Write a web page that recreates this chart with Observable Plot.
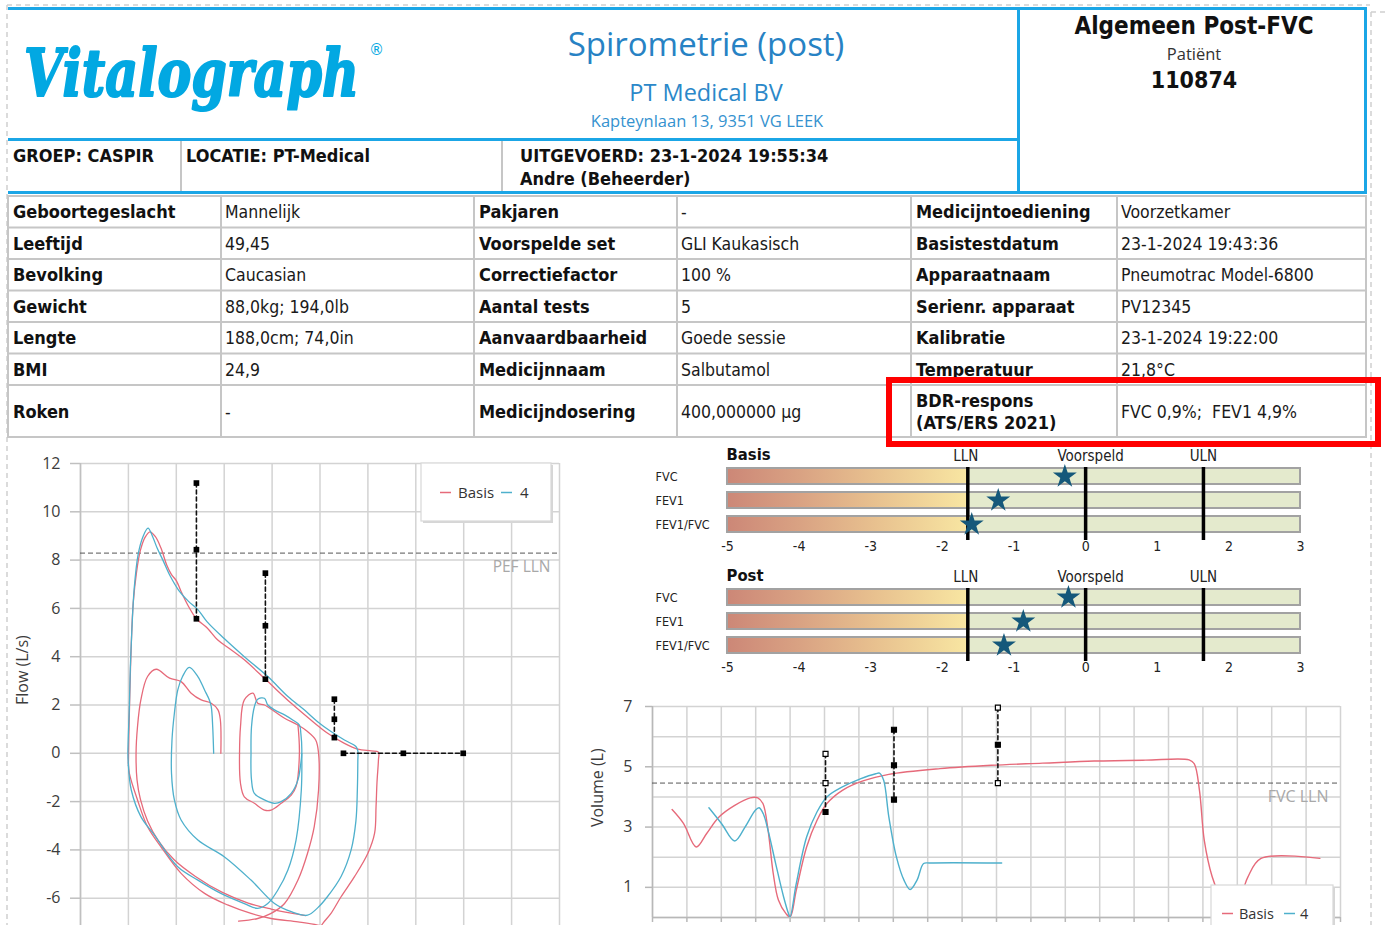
<!DOCTYPE html>
<html>
<head>
<meta charset="utf-8">
<script src="https://cdn.jsdelivr.net/npm/d3@7"></script>
<script src="https://cdn.jsdelivr.net/npm/@observablehq/plot@0.6"></script>
<style>
html, body { margin:0; padding:0; background:#fff; overflow:hidden; }
body { width:1386px; height:925px; position:relative; }
.layer { position:absolute; left:0; top:0; }
.chart { position:absolute; }
.chart svg { overflow: visible; }
</style>
</head>
<body>
<div id="bg" class="layer"></div>
<div id="fv" class="chart" style="left:0px;top:440px"></div>
<div id="zb" class="chart" style="left:640px;top:440px"></div>
<div id="zp" class="chart" style="left:640px;top:561px"></div>
<div id="vt" class="chart" style="left:580px;top:690px"></div>
<div id="ov" class="layer"></div>
<script>
// ================= DATA =================
const logoText = "Vitalograph";
const headerTitle = "Spirometrie (post)";
const headerOrg = "PT Medical BV";
const headerAddress = "Kapteynlaan 13, 9351 VG LEEK";
const reportType = "Algemeen Post-FVC";
const patientLabel = "Patiënt";
const patientId = "110874";
const groupText = "GROEP: CASPIR";
const locationText = "LOCATIE: PT-Medical";
const performedText = "UITGEVOERD: 23-1-2024 19:55:34";
const operatorText = "Andre (Beheerder)";

const tableLabels1 = ["Geboortegeslacht","Leeftijd","Bevolking","Gewicht","Lengte","BMI","Roken"];
const tableValues1 = ["Mannelijk","49,45","Caucasian","88,0kg; 194,0lb","188,0cm; 74,0in","24,9","-"];
const tableLabels2 = ["Pakjaren","Voorspelde set","Correctiefactor","Aantal tests","Aanvaardbaarheid","Medicijnnaam","Medicijndosering"];
const tableValues2 = ["-","GLI Kaukasisch","100 %","5","Goede sessie","Salbutamol","400,000000 µg"];
const tableLabels3 = ["Medicijntoediening","Basistestdatum","Apparaatnaam","Serienr. apparaat","Kalibratie","Temperatuur","BDR-respons|(ATS/ERS 2021)"];
const tableValues3 = ["Voorzetkamer","23-1-2024 19:43:36","Pneumotrac Model-6800","PV12345","23-1-2024 19:22:00","21,8°C","FVC 0,9%;  FEV1 4,9%"];

const seriesNames = ["Basis", "4"];

// Flow-volume (volume L, flow L/s)
const fvYTicks = [-6,-4,-2,0,2,4,6,8,10,12];
const fvXGrid = [0,1,2,3,4,5,6,7,8,9,10];
const fvPefLln = 8.29;
const fvBasisFvc = [[1.00,-0.4],[1.01,0.8],[1.03,2.5],[1.06,4.5],[1.10,6.2],[1.17,7.5],[1.25,8.4],[1.35,8.95],[1.45,9.17],[1.56,8.98],[1.68,8.5],[1.80,7.8],[1.90,7.4],[2.00,7.15],[2.10,6.7],[2.25,6.1],[2.42,5.57],[2.64,5.2],[2.86,4.70],[3.10,4.35],[3.42,3.87],[3.91,2.97],[4.40,2.07],[4.81,1.38],[5.16,0.83],[5.51,0.41],[5.79,0.17],[6.07,0.10],[6.22,0.05],[6.22,-0.28],[6.19,-1.2],[6.17,-2.21],[6.14,-3.31],[6.00,-4.14],[5.72,-5.11],[5.44,-5.94],[5.23,-6.63],[5.06,-7.04],[4.98,-7.3]];
const fvBasisLow = [[1.00,-0.4],[1.02,-0.83],[1.19,-1.93],[1.40,-3.04],[1.68,-3.87],[2.10,-4.97],[2.59,-5.80],[3.07,-6.28],[3.56,-6.63],[3.98,-6.84],[4.54,-6.98],[4.95,-7.11],[5.3,-7.3]];
const fvBasisLoop2 = [[2.93,0],[2.92,1.38],[2.87,1.80],[2.73,2.07],[2.52,2.21],[2.31,2.49],[2.10,2.97],[1.86,3.11],[1.58,3.48],[1.40,3.18],[1.26,2.21],[1.19,1.10],[1.16,0],[1.18,-1.10],[1.25,-1.9],[1.40,-2.8],[1.62,-3.6],[1.95,-4.4],[2.40,-5.1],[2.95,-5.75],[3.50,-6.2],[3.98,-6.45],[4.40,-6.62],[4.7,-6.72]];
const fvBasisTidal = [[3.32,0],[3.34,1.10],[3.42,2.21],[3.60,2.49],[3.70,2.07],[3.84,2.0],[4.05,1.73],[4.26,1.45],[4.54,1.17],[4.74,0.90],[4.91,0.55],[4.97,0],[4.97,-1.52],[4.88,-3.04],[4.74,-4.14],[4.54,-5.25],[4.26,-6.22],[3.98,-6.63],[3.70,-6.84],[3.3,-6.95]];
const fvBasisTidalInner = [[4.54,1.17],[4.57,0],[4.50,-1.38],[4.40,-1.73],[4.19,-2.07],[3.98,-2.35],[3.84,-2.35],[3.63,-2.07],[3.42,-1.80],[3.34,-1.24],[3.32,0]];
const fvPostFvc = [[1.00,-0.5],[0.99,0],[1.02,1.93],[1.04,3.5],[1.07,5.0],[1.12,6.8],[1.20,8.2],[1.30,8.95],[1.41,9.32],[1.50,9.0],[1.60,8.5],[1.72,8.0],[1.87,7.35],[2.05,6.75],[2.25,6.3],[2.45,5.95],[2.64,5.45],[3.00,4.75],[3.42,4.0],[3.91,3.18],[4.33,2.35],[4.67,1.80],[4.95,1.31],[5.23,0.90],[5.51,0.55],[5.75,0.28],[5.79,0.10],[5.79,-0.3],[5.78,-1.5],[5.75,-2.8],[5.65,-4.0],[5.44,-5.1],[5.15,-5.95],[4.95,-6.4],[4.74,-6.70],[4.40,-6.56],[4.05,-6.22],[3.56,-5.25],[3.00,-4.28],[2.45,-3.59],[2.10,-2.76],[1.96,-1.93],[1.90,-0.83],[1.91,0.55],[1.96,1.66],[2.03,2.62],[2.13,3.18],[2.27,3.56],[2.45,3.18],[2.59,2.62],[2.69,2.21],[2.73,1.93],[2.76,1.10],[2.78,0]];
const fvPostTidal = [[3.56,0],[3.57,1.10],[3.63,1.93],[3.70,2.24],[3.84,2.28],[3.91,2.0],[4.05,1.80],[4.26,1.59],[4.43,1.38],[4.57,1.17],[4.60,0.83],[4.62,0],[4.59,-0.55],[4.54,-1.10],[4.40,-1.66],[4.19,-2.0],[4.05,-2.07],[3.84,-1.93],[3.63,-1.66],[3.57,-1.10],[3.56,0]];
const fvPostSide = [[4.62,0],[4.61,-1.52],[4.50,-3.59],[4.33,-4.83],[4.12,-5.66],[3.91,-6.22],[3.70,-6.42],[3.42,-6.22],[2.93,-5.80],[2.45,-5.25],[2.03,-4.70],[1.54,-3.38],[1.26,-2.62],[1.06,-1.52],[1.00,-0.5]];
const fvFlowMarkerVol = [2.42, 3.86, 5.30];
const fvFlowMarkerVals = [[11.19, 8.43, 5.57],[7.46, 5.28, 3.07],[2.24, 1.41, 0.65]];
const fvVolMarkerVals = [5.49, 6.74, 7.99];

// Z-scores
const zMetrics = ["FVC", "FEV1", "FEV1/FVC"];
const zBasis = [-0.29, -1.22, -1.59];
const zPost = [-0.24, -0.87, -1.14];
const zLLN = -1.645, zULN = 1.645;
const zTicks = [-5,-4,-3,-2,-1,0,1,2,3];
const zHeaderLabels = ["LLN", "Voorspeld", "ULN"];

// Volume-time (time s, volume L)
const vtYTicks = [1, 3, 5, 7];
const vtYGrid = [0,1,2,3,4,5,6,7];
const vtXGrid = d3.range(0, 21);
const vtFvcLln = 4.46;
const vtBasis = [[0.57,3.58],[0.9,3.12],[1.27,2.34],[1.57,2.78],[1.94,3.34],[2.39,3.72],[2.84,3.97],[3.06,3.97],[3.21,3.78],[3.36,2.89],[3.51,1.46],[3.66,0.58],[3.88,0.13],[4.0,0.02],[4.18,0.91],[4.48,2.34],[4.78,3.22],[5.07,3.78],[5.52,4.22],[6.12,4.53],[6.87,4.75],[8.36,4.94],[9.85,5.05],[11.34,5.12],[12.84,5.19],[14.33,5.22],[15.6,5.23],[15.75,5.10],[15.9,4.22],[16.04,2.56],[16.27,1.35],[16.42,0.91],[16.6,0.6],[16.8,0.5],[17.0,0.65],[17.16,0.91],[17.31,1.35],[17.69,1.96],[19.4,1.96]];
const vtPost = [[1.64,3.64],[2.01,3.11],[2.39,2.54],[2.69,3.0],[2.99,3.56],[3.10,3.64],[3.22,3.44],[3.36,2.89],[3.58,1.79],[3.81,0.69],[3.96,0.11],[4.0,0.02],[4.18,1.13],[4.48,2.67],[4.78,3.50],[5.07,4.0],[5.52,4.33],[6.04,4.60],[6.49,4.77],[6.6,4.79],[6.72,4.55],[6.87,3.34],[7.09,2.01],[7.31,1.24],[7.49,0.93],[7.69,1.24],[7.88,1.79],[8.06,1.81],[10.15,1.81]];
const vtMarkerTimes = [5.03, 7.02, 10.04];
const vtMarkerVals = [[5.43, 4.46, 3.50],[6.23, 5.05, 3.91],[6.96, 5.73, 4.46]];
const vtMarkerFilled = [[false,false,true],[true,true,true],[false,true,false]];

// ================= STYLE =================
const COND = '"DejaVu Sans Condensed", "DejaVu Sans", sans-serif';
const UI = '"Open Sans", "Noto Sans", sans-serif';
const BLUE = "#1ba6e6";
const RED = "#e66a7a", TEAL = "#4eb0cc";
const seriesColor = {"Basis": RED, "4": TEAL};
const GRID = "#d3d3d3";

// ================= STATIC PAGE (header + table) =================
const bg = d3.select("#bg").append("svg").attr("width", 1386).attr("height", 925);
function line(x1, y1, x2, y2, stroke, w, dash) {
  const l = bg.append("line").attr("x1", x1).attr("y1", y1).attr("x2", x2).attr("y2", y2)
    .attr("stroke", stroke).attr("stroke-width", w);
  if (dash) l.attr("stroke-dasharray", dash);
}
function text(sel, x, y, str, opt) {
  const t = sel.append("text").attr("x", x).attr("y", y).text(str)
    .attr("font-family", opt.family || COND).attr("font-size", opt.size)
    .attr("fill", opt.fill || "#111").attr("font-weight", opt.weight || "normal")
    .attr("text-anchor", opt.anchor || "start").style("white-space", "pre");
  if (opt.style) t.attr("font-style", opt.style);
  if (opt.outline) t.attr("stroke", opt.fill).attr("stroke-width", opt.outline).attr("stroke-linejoin", "round");
  return t;
}
// dashed page borders
line(7, 5, 1370, 5, "#cfcfcf", 1.5, "5,4");
line(7, 5, 7, 925, "#cfcfcf", 1.5, "5,4");
line(1371, 12, 1371, 925, "#cfcfcf", 1.5, "5,4");
line(1371, 12, 1386, 12, "#cfcfcf", 1.5, "5,4");

// table grid
const cb = [8, 221, 474, 677, 911, 1117, 1366];
const rb = [196, 227.5, 259, 290.5, 322, 353.5, 385, 437];
rb.forEach(y => line(8, y, 1366, y, "#c6c6c6", 2));
cb.forEach(x => line(x, 195, x, 438, "#c6c6c6", 2));
const cols = [[tableLabels1, tableValues1], [tableLabels2, tableValues2], [tableLabels3, tableValues3]];
cols.forEach(([labs, vals], k) => {
  labs.forEach((lab, i) => {
    const cy = (rb[i] + rb[i + 1]) / 2;
    const parts = lab.split("|");
    parts.forEach((p, j) => {
      const yy = cy + 6.5 + (j - (parts.length - 1) / 2) * 22;
      text(bg, cb[2 * k] + 5, yy, p, {size: 18, weight: "bold", fill: "#111"});
    });
    text(bg, cb[2 * k + 1] + 4, cy + 6.5, vals[i], {size: 17.5, fill: "#1a1a1a"});
  });
});

// header boxes
line(8, 8.5, 1367, 8.5, BLUE, 3);
line(8, 139.5, 1019, 139.5, BLUE, 3);
line(8, 192.5, 1367, 192.5, BLUE, 3);
line(1018.5, 7, 1018.5, 194, BLUE, 3);
line(1365.5, 7, 1365.5, 194, BLUE, 3);
line(181, 141, 181, 191, "#c6c6c6", 2);
line(502, 141, 502, 191, "#c6c6c6", 2);

// logo: scaled horizontally to the logo's width
const logoG = bg.append("g").attr("transform", "translate(24,96)");
const logo = text(logoG, 0, 0, logoText, {family: '"DejaVu Serif", serif', size: 66, weight: "bold", style: "italic", fill: "#02a8e2", outline: 2.2});
const natural = logo.node().getComputedTextLength() || 440;
logoG.attr("transform", `translate(24,96) scale(${(335 / natural).toFixed(4)},1)`);
text(bg, 369, 55, "®", {family: '"DejaVu Sans", sans-serif', size: 15, fill: "#02a8e2"});

text(bg, 706, 56, headerTitle, {family: UI, size: 33, fill: "#2782c4", anchor: "middle"});
text(bg, 706, 100.5, headerOrg, {family: UI, size: 23.5, fill: "#2b88c9", anchor: "middle"});
text(bg, 707, 127, headerAddress, {family: UI, size: 16.5, fill: "#3592cf", anchor: "middle"});
text(bg, 1194, 34, reportType, {size: 24, weight: "bold", anchor: "middle", fill: "#111"});
text(bg, 1194, 60, patientLabel, {family: UI, size: 16.5, anchor: "middle", fill: "#333"});
text(bg, 1194, 87.5, patientId, {size: 23, weight: "bold", anchor: "middle", fill: "#111"});
text(bg, 13, 161.5, groupText, {size: 18, weight: "bold"});
text(bg, 186, 161.5, locationText, {size: 18, weight: "bold"});
text(bg, 520, 161.5, performedText, {size: 18, weight: "bold"});
text(bg, 520, 185, operatorText, {size: 18, weight: "bold"});

// ================= FLOW-VOLUME =================
const fvCurves = [
  ["Basis", fvBasisFvc], ["Basis", fvBasisLow], ["Basis", fvBasisLoop2], ["Basis", fvBasisTidal], ["Basis", fvBasisTidalInner],
  ["4", fvPostFvc], ["4", fvPostTidal], ["4", fvPostSide]
];
const fvRows = fvCurves.flatMap(([s, pts], i) => pts.map(([v, f]) => ({v, f, s, id: i})));
const fvMarkRows = [
  ...fvFlowMarkerVol.flatMap((v, i) => fvFlowMarkerVals[i].map(f => ({v, f, id: "p" + i}))),
  ...fvVolMarkerVals.map(v => ({v, f: 0, id: "h"}))
];
const fv = Plot.plot({
  width: 580, height: 485,
  marginLeft: 80, marginRight: 21, marginTop: 23, marginBottom: 0,
  x: {domain: [0, 10], axis: null},
  y: {domain: [-7.13, 12], axis: null},
  style: {background: "transparent", overflow: "visible"},
  marks: [
    Plot.gridX(fvXGrid, {stroke: GRID, strokeOpacity: 1, strokeWidth: 1.5}),
    Plot.gridY(fvYTicks, {stroke: GRID, strokeOpacity: 1, strokeWidth: 1.5}),
    Plot.axisY(fvYTicks, {label: null, tickSize: 10, tickPadding: 10, tickFormat: d => String(d), fontSize: 16, fontFamily: UI, fill: "#3c3c3c", stroke: "#c0c0c0", strokeWidth: 1.5}),
    Plot.ruleX([0], {stroke: "#c0c0c0", strokeWidth: 1.5}),
    Plot.ruleY([fvPefLln], {stroke: "#555", strokeDasharray: "5,3", strokeWidth: 1}),
    Plot.text(["PEF LLN"], {x: 10, y: fvPefLln, dx: -9, dy: 14, textAnchor: "end", fill: "#a8a8a8", fontSize: 15.5, fontFamily: UI}),
    Plot.line(fvRows, {x: "v", y: "f", z: "id", stroke: d => seriesColor[d.s], strokeWidth: 1.3, curve: "catmull-rom", clip: true}),
    Plot.line(fvMarkRows, {x: "v", y: "f", z: "id", stroke: "#111", strokeWidth: 1.6, strokeDasharray: "4,3"}),
    Plot.dot(fvMarkRows, {x: "v", y: "f", symbol: "square", fill: "#000", r: 3.2}),
    Plot.text(["Flow (L/s)"], {frameAnchor: "left", y: 2, dx: -58, rotate: -90, fontSize: 16, fontFamily: UI, fill: "#3c3c3c"})
  ]
});
document.getElementById("fv").appendChild(fv);

// ================= Z-SCORES =================
function zChart(title, values, gid) {
  const gridRows = zMetrics.flatMap(m => zTicks.filter(t => t > -5 && t < 3 && t !== 0).map(t => ({m, t})));
  const starRows = zMetrics.map((m, i) => ({m, z: values[i]}));
  const headRows = zHeaderLabels.map((label, i) => ({label, x: [zLLN, 0, zULN][i]}));
  const svg = Plot.plot({
    width: 700, height: 120,
    marginLeft: 87, marginRight: 40, marginTop: 27, marginBottom: 20,
    x: {domain: [-5, 3], axis: null},
    y: {domain: zMetrics, range: [27, 92], paddingInner: 0.35, paddingOuter: 0, axis: null},
    style: {background: "transparent", overflow: "visible"},
    marks: [
      Plot.barX(zMetrics, {x1: -5, x2: zLLN, y: d => d, fill: `url(#${gid})`}),
      Plot.barX(zMetrics, {x1: zLLN, x2: 3, y: d => d, fill: "#e4eacd"}),
      Plot.ruleX(gridRows, {x: "t", y: "m", stroke: "#6e6660", strokeWidth: 2, strokeOpacity: 0.85}),
      Plot.barX(zMetrics, {x1: -5, x2: 3, y: d => d, fill: "none", stroke: "#a2a2a2", strokeWidth: 2}),
      Plot.ruleX([zLLN, 0, zULN], {stroke: "#000", strokeWidth: 3.5}),
      Plot.dot(starRows, {x: "z", y: "m", symbol: "star", fill: "#15587a", r: 7.5}),
      Plot.axisX(zTicks, {label: null, tickSize: 0, tickPadding: 1, tickFormat: d => String(d), fontSize: 14, fontFamily: COND, fill: "#222"}),
      Plot.text(zMetrics, {y: d => d, text: d => d, frameAnchor: "left", dx: -72, textAnchor: "start", fontSize: 12.5, fontFamily: COND, fill: "#222"}),
      Plot.text([title], {frameAnchor: "top-left", dx: -1, dy: -19, textAnchor: "start", fontSize: 16.5, fontWeight: "bold", fontFamily: COND, fill: "#111"}),
      Plot.text(headRows.slice(0, 1), {x: "x", text: "label", frameAnchor: "top", dx: -2, dy: -17, fontSize: 15, fontFamily: COND, fill: "#222"}),
      Plot.text(headRows.slice(1, 2), {x: "x", text: "label", frameAnchor: "top", dx: 5, dy: -17, fontSize: 15, fontFamily: COND, fill: "#222"}),
      Plot.text(headRows.slice(2, 3), {x: "x", text: "label", frameAnchor: "top", dx: 0, dy: -17, fontSize: 15, fontFamily: COND, fill: "#222"})
    ]
  });
  const defs = d3.select(svg).insert("defs", ":first-child");
  const g = defs.append("linearGradient").attr("id", gid).attr("x1", 0).attr("x2", 1).attr("y1", 0).attr("y2", 0);
  [[0, "#cc8777"], [0.3, "#d9a283"], [0.62, "#e8c18f"], [1, "#f8e6a2"]].forEach(([o, c]) => g.append("stop").attr("offset", o).attr("stop-color", c));
  return svg;
}
document.getElementById("zb").appendChild(zChart("Basis", zBasis, "zgradBasis"));
document.getElementById("zp").appendChild(zChart("Post", zPost, "zgradPost"));

// ================= VOLUME-TIME =================
const vtRows = [...vtBasis.map(([t, v]) => ({t, v, s: "Basis"})), ...vtPost.map(([t, v]) => ({t, v, s: "4"}))];
const vtMarkRows = vtMarkerTimes.flatMap((t, i) => vtMarkerVals[i].map((v, j) => ({t, v, id: i, filled: vtMarkerFilled[i][j]})));
const vt = Plot.plot({
  width: 806, height: 235,
  marginLeft: 72, marginRight: 46, marginTop: 16, marginBottom: 8,
  x: {domain: [0, 20], axis: null},
  y: {domain: [0, 7], axis: null},
  style: {background: "transparent", overflow: "visible"},
  marks: [
    Plot.gridX(vtXGrid, {stroke: GRID, strokeOpacity: 1, strokeWidth: 1.5}),
    Plot.gridY(vtYGrid, {stroke: GRID, strokeOpacity: 1, strokeWidth: 1.5}),
    Plot.axisY(vtYTicks, {label: null, tickSize: 7, tickPadding: 13, tickFormat: d => String(d), fontSize: 16, fontFamily: UI, fill: "#3c3c3c", stroke: "#b8b8b8", strokeWidth: 1.5}),
    Plot.axisX(vtXGrid, {label: null, tickSize: 5, tickFormat: () => "", stroke: "#b8b8b8", strokeWidth: 1.5}),
    Plot.ruleX([0], {stroke: "#b8b8b8", strokeWidth: 1.5}),
    Plot.ruleY([0], {stroke: "#b8b8b8", strokeWidth: 1.5}),
    Plot.ruleY([vtFvcLln], {stroke: "#555", strokeDasharray: "5,3", strokeWidth: 1}),
    Plot.text(["FVC LLN"], {x: 20, y: vtFvcLln, dx: -12, dy: 14, textAnchor: "end", fill: "#a8a8a8", fontSize: 16, fontFamily: UI}),
    Plot.line(vtRows, {x: "t", y: "v", z: "s", stroke: d => seriesColor[d.s], strokeWidth: 1.4, curve: "catmull-rom", clip: true}),
    Plot.line(vtMarkRows, {x: "t", y: "v", z: "id", stroke: "#111", strokeWidth: 1.6, strokeDasharray: "4,3"}),
    Plot.dot(vtMarkRows, {x: "t", y: "v", symbol: "square", fill: d => d.filled ? "#000" : "#fff", stroke: "#000", strokeWidth: 1.2, r: 2.8}),
    Plot.text(["Volume (L)"], {frameAnchor: "left", y: 3, dx: -55, rotate: -90, fontSize: 16, fontFamily: UI, fill: "#3c3c3c"})
  ]
});
document.getElementById("vt").appendChild(vt);

// ================= OVERLAY (legends + highlight) =================
const ov = d3.select("#ov").append("svg").attr("width", 1386).attr("height", 925);
function legend(x, y, w, h, ty, dashX, labelX, dash2X, label2X, size) {
  ov.append("rect").attr("x", x + 2).attr("y", y + 2).attr("width", w).attr("height", h).attr("fill", "#d6d6d6");
  ov.append("rect").attr("x", x).attr("y", y).attr("width", w).attr("height", h).attr("fill", "#fff").attr("stroke", "#d8d8d8").attr("stroke-width", 1.2);
  ov.append("line").attr("x1", dashX).attr("x2", dashX + 11).attr("y1", ty - 5.5).attr("y2", ty - 5.5).attr("stroke", RED).attr("stroke-width", 1.5);
  ov.append("text").attr("x", labelX).attr("y", ty).text(seriesNames[0]).attr("font-family", UI).attr("font-size", size).attr("fill", "#333");
  ov.append("line").attr("x1", dash2X).attr("x2", dash2X + 11).attr("y1", ty - 5.5).attr("y2", ty - 5.5).attr("stroke", TEAL).attr("stroke-width", 1.5);
  ov.append("text").attr("x", label2X).attr("y", ty).text(seriesNames[1]).attr("font-family", UI).attr("font-size", size).attr("fill", "#333");
}
legend(421, 463, 130, 58, 498, 440, 458, 501, 520, 15);
legend(1211, 885, 122, 50, 919, 1222, 1239, 1284, 1300, 14.5);
ov.append("rect").attr("x", 889).attr("y", 380).attr("width", 489).attr("height", 64)
  .attr("fill", "none").attr("stroke", "#ff0000").attr("stroke-width", 6);
</script>
</body>
</html>
